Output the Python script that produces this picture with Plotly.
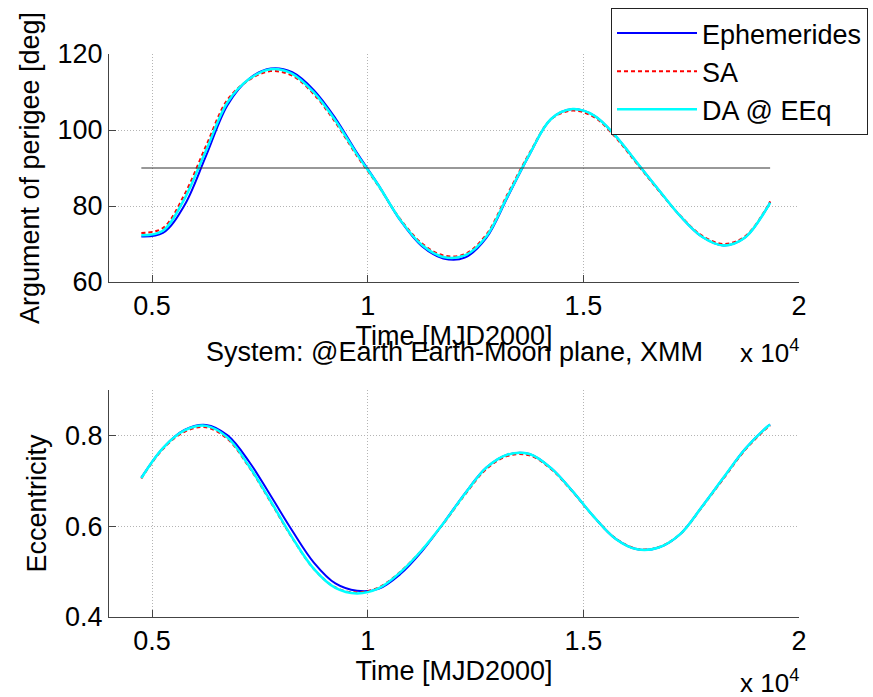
import plotly.graph_objects as go

# ---------------- data ----------------
time_mjd2000 = [4750, 5250, 5750, 6250, 6750, 7250, 7750, 8250, 8750, 9250,
                9750, 10250, 10750, 11250, 11750, 12250, 12750, 13250, 13750, 14250,
                14750, 15250, 15750, 16250, 16750, 17250, 17750, 18250, 18750, 19250,
                19330]

# Argument of perigee [deg]
argp_ephemerides = [72.0, 72.9, 80.2, 93.2, 106.6, 113.5, 116.2, 115.2, 110.5, 103.1,
                    94.0, 85.5, 76.3, 69.5, 66.2, 66.4, 71.6, 82.5, 93.5, 102.9,
                    105.5, 103.8, 98.4, 91.3, 84.2, 77.3, 71.9, 69.6, 71.7, 79.3,
                    81.0]
argp_sa = [72.9, 74.2, 83.0, 95.8, 108.0, 113.2, 115.5, 114.3, 109.4, 102.0,
           93.2, 85.2, 76.6, 70.2, 67.0, 67.3, 72.5, 83.3, 93.9, 102.8,
           105.1, 103.4, 98.0, 91.0, 84.0, 77.4, 72.2, 70.0, 72.0, 79.5,
           81.2]
argp_da = [72.3, 73.5, 81.9, 94.6, 107.3, 113.4, 116.0, 114.8, 109.9, 102.5,
           93.6, 85.4, 76.4, 69.8, 66.6, 67.0, 72.0, 82.8, 93.6, 102.9,
           105.5, 103.8, 98.4, 91.3, 84.2, 77.3, 71.9, 69.6, 71.7, 79.3,
           80.9]
argp_reference_deg = 90

# Eccentricity
ecc_ephemerides = [0.707, 0.772, 0.812, 0.823, 0.800, 0.742, 0.667, 0.590, 0.520, 0.474,
                   0.458, 0.462, 0.494, 0.544, 0.606, 0.672, 0.729, 0.758, 0.759, 0.728,
                   0.677, 0.620, 0.572, 0.549, 0.553, 0.583, 0.643, 0.707, 0.770, 0.818,
                   0.824]
ecc_sa = [0.705, 0.770, 0.808, 0.818, 0.792, 0.730, 0.653, 0.574, 0.506, 0.465,
          0.454, 0.465, 0.499, 0.547, 0.605, 0.669, 0.726, 0.755, 0.756, 0.726,
          0.676, 0.620, 0.573, 0.550, 0.554, 0.583, 0.642, 0.705, 0.768, 0.816,
          0.822]
ecc_da = [0.706, 0.772, 0.811, 0.821, 0.795, 0.732, 0.655, 0.575, 0.506, 0.464,
          0.452, 0.463, 0.498, 0.547, 0.606, 0.671, 0.729, 0.758, 0.759, 0.728,
          0.677, 0.620, 0.572, 0.549, 0.553, 0.583, 0.643, 0.707, 0.770, 0.818,
          0.824]

x_tickvals = [5000, 10000, 15000, 20000]
x_ticktext = ["0.5", "1", "1.5", "2"]
y1_tickvals = [60, 80, 100, 120]
y2_tickvals = [0.4, 0.6, 0.8]
series_names = ["Ephemerides", "SA", "DA @ EEq"]

# ---------------- styling ----------------
FONT = "Liberation Sans, Arial, Helvetica, sans-serif"
FS = 27
W, H = 873, 697
ML, MR, MT, MB = 109, 74, 54, 80
PH = H - MT - MB
PW = W - ML - MR

def py(pix):
    return (H - MB - pix) / PH

fig = go.Figure()

styles = [
    dict(color="#0000ff", width=2),
    dict(color="#ff0000", width=2, dash="4px,3px"),
    dict(color="#00ffff", width=2.5),
]
top_series = [argp_ephemerides, argp_sa, argp_da]
bot_series = [ecc_ephemerides, ecc_sa, ecc_da]

for name, ys, st in zip(series_names, top_series, styles):
    fig.add_trace(go.Scatter(x=time_mjd2000, y=ys, mode="lines", name=name,
                             line=dict(shape="spline", **st),
                             xaxis="x", yaxis="y", showlegend=True))

fig.add_trace(go.Scatter(x=[time_mjd2000[0], time_mjd2000[-1]],
                         y=[argp_reference_deg, argp_reference_deg],
                         mode="lines", line=dict(color="#333333", width=1.2),
                         xaxis="x", yaxis="y", showlegend=False))

for name, ys, st in zip(series_names, bot_series, styles):
    fig.add_trace(go.Scatter(x=time_mjd2000, y=ys, mode="lines", name=name,
                             line=dict(shape="spline", **st),
                             xaxis="x2", yaxis="y2", showlegend=False))

axis_common = dict(
    showline=True, linecolor="#444444", linewidth=1, mirror=False,
    ticks="inside", ticklen=7, tickcolor="#444444", tickwidth=1,
    showgrid=True, gridcolor="#b4b4b4", griddash="1px,2px", gridwidth=1,
    zeroline=False, tickfont=dict(family=FONT, size=FS, color="#000000"),
)

fig.update_layout(
    width=W, height=H,
    margin=dict(l=ML, r=MR, t=MT, b=MB, autoexpand=False),
    paper_bgcolor="white", plot_bgcolor="white",
    font=dict(family=FONT, size=FS, color="#000000"),
    xaxis=dict(domain=[0, 1], anchor="y", range=[4000, 20000],
               tickvals=x_tickvals, ticktext=x_ticktext,
               title=dict(text="Time [MJD2000]", standoff=0,
                          font=dict(family=FONT, size=FS)),
               **axis_common),
    yaxis=dict(domain=[py(282), 1], anchor="x", range=[60, 120],
               tickvals=y1_tickvals,
               title=dict(text="Argument of perigee [deg]", standoff=10,
                          font=dict(family=FONT, size=FS)),
               **axis_common),
    xaxis2=dict(domain=[0, 1], anchor="y2", range=[4000, 20000],
                tickvals=x_tickvals, ticktext=x_ticktext,
                title=dict(text="Time [MJD2000]", standoff=0,
                           font=dict(family=FONT, size=FS)),
                **axis_common),
    yaxis2=dict(domain=[0, py(390)], anchor="x2", range=[0.4, 0.9],
                tickvals=y2_tickvals, tickformat=".1f",
                title=dict(text="Eccentricity", standoff=10,
                           font=dict(family=FONT, size=FS)),
                **axis_common),
    legend=dict(xref="container", yref="container",
                x=611 / W, y=1 - 8 / H, xanchor="left", yanchor="top",
                bgcolor="white", bordercolor="#222222", borderwidth=1,
                font=dict(family=FONT, size=FS), itemwidth=80,
                tracegroupgap=0),
    showlegend=True,
)

fig.add_annotation(text="System: @Earth Earth-Moon plane, XMM", xref="paper", yref="paper",
                   x=0.5, y=py(352), xanchor="center", yanchor="middle",
                   showarrow=False, font=dict(family=FONT, size=FS))
fig.add_annotation(text="x 10<sup>4</sup>", xref="paper", yref="paper",
                   x=1.0 + 2 / PW, y=py(370), xanchor="right", yanchor="bottom",
                   showarrow=False, font=dict(family=FONT, size=FS - 1))
fig.add_annotation(text="x 10<sup>4</sup>", xref="paper", yref="paper",
                   x=1.0 + 2 / PW, y=py(700), xanchor="right", yanchor="bottom",
                   showarrow=False, font=dict(family=FONT, size=FS - 1))

fig.write_html("out.html")
